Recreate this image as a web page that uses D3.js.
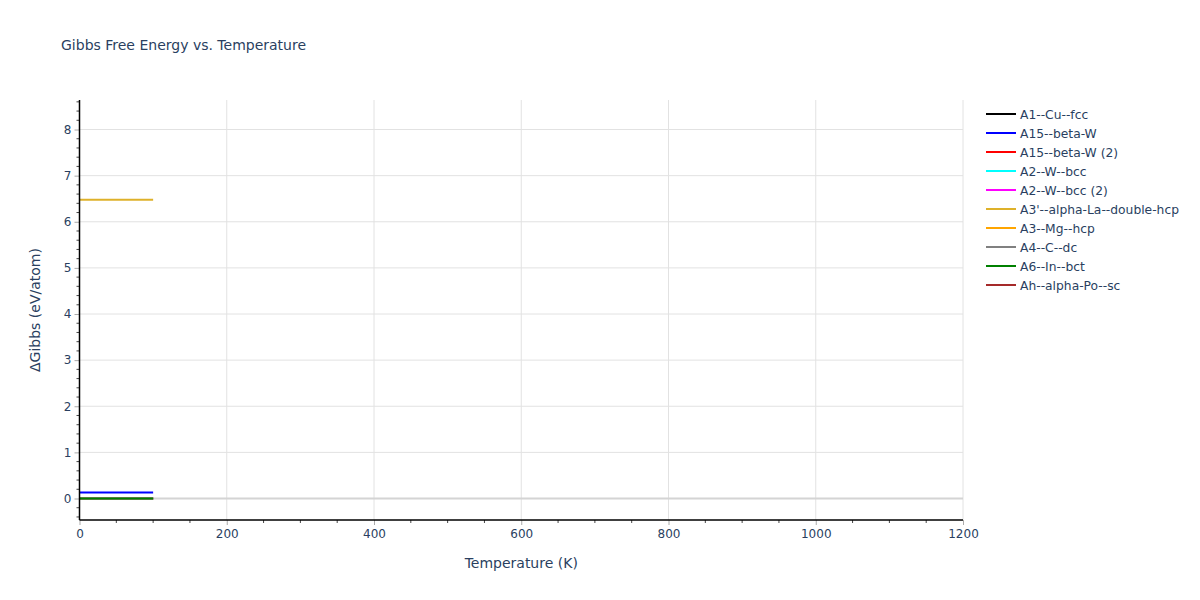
<!DOCTYPE html>
<html><head><meta charset="utf-8">
<script src="https://cdn.jsdelivr.net/npm/d3@7"></script>
<style>body{margin:0;background:#fff}text{font-family:"DejaVu Sans",sans-serif}</style>
</head><body>
<svg id="c" width="1200" height="600"></svg>
<script>
const temperatures = [0, 20, 40, 60, 80, 100];
const seriesNames = ["A1--Cu--fcc","A15--beta-W","A15--beta-W (2)","A2--W--bcc","A2--W--bcc (2)","A3'--alpha-La--double-hcp","A3--Mg--hcp","A4--C--dc","A6--In--bct","Ah--alpha-Po--sc"];
const seriesColors = ["black","blue","red","cyan","magenta","#deb12a","orange","gray","green","brown"];
const A1_Cu_fcc = [0, 0, 0, 0, 0, 0];
const A15_beta_W = [0.13, 0.13, 0.13, 0.13, 0.13, 0.13];
const A15_beta_W_2 = [0, 0, 0, 0, 0, 0];
const A2_W_bcc = [0, 0, 0, 0, 0, 0];
const A2_W_bcc_2 = [0, 0, 0, 0, 0, 0];
const A3p_alpha_La = [6.48, 6.48, 6.48, 6.48, 6.48, 6.48];
const A3_Mg_hcp = [0, 0, 0, 0, 0, 0];
const A4_C_dc = [0, 0, 0, 0, 0, 0];
const A6_In_bct = [0, 0, 0, 0, 0, 0];
const Ah_alpha_Po_sc = [];
const seriesValues = [A1_Cu_fcc, A15_beta_W, A15_beta_W_2, A2_W_bcc, A2_W_bcc_2, A3p_alpha_La, A3_Mg_hcp, A4_C_dc, A6_In_bct, Ah_alpha_Po_sc];
const xTicks = [0, 200, 400, 600, 800, 1000, 1200];
const yTicks = [0, 1, 2, 3, 4, 5, 6, 7, 8];

const svg = d3.select("#c");
const L = 79.5, R = 963, T = 100, B = 520;
const x = d3.scaleLinear().domain([0, 1200]).range([L, R]);
const y = d3.scaleLinear().domain([-0.466, 8.64]).range([B, T]);
const txt = "#2a3f5f";
const FONT = "DejaVu Sans";

// grid
svg.append("g").selectAll("line").data(xTicks.filter(d => d > 0)).join("line")
  .attr("x1", d => x(d)).attr("x2", d => x(d)).attr("y1", T).attr("y2", B)
  .attr("stroke", "#e2e2e2").attr("stroke-width", 1);
svg.append("g").selectAll("line").data(yTicks.filter(d => d !== 0)).join("line")
  .attr("x1", L).attr("x2", R).attr("y1", d => y(d)).attr("y2", d => y(d))
  .attr("stroke", "#e2e2e2").attr("stroke-width", 1);
// zero line
svg.append("line").attr("x1", L).attr("x2", R).attr("y1", y(0)).attr("y2", y(0))
  .attr("stroke", "#d4d4d4").attr("stroke-width", 2);

// series
const line = d3.line().x((d, i) => x(temperatures[i])).y(d => y(d));
seriesValues.forEach((vals, k) => {
  if (!vals.length) return;
  svg.append("path").datum(vals).attr("d", line).attr("fill", "none")
    .attr("stroke", seriesColors[k]).attr("stroke-width", 2);
});

// axes
const xAxis = d3.axisBottom(x).tickValues(xTicks).tickFormat(d3.format("d")).tickSize(5).tickPadding(4);
const gx = svg.append("g").attr("transform", `translate(0,${B})`).call(xAxis);
gx.select(".domain").remove();
gx.selectAll(".tick line").attr("stroke", "#aaa");
gx.selectAll("text").attr("fill", txt).attr("font-size", 12).attr("font-family", FONT);
const xMinor = d3.range(50, 1200, 50).filter(v => v % 200 !== 0);
svg.append("g").selectAll("line").data(xMinor).join("line")
  .attr("x1", d => x(d)).attr("x2", d => x(d)).attr("y1", B).attr("y2", B + 3).attr("stroke", "#444");

const yAxis = d3.axisLeft(y).tickValues(yTicks).tickSize(5).tickPadding(3);
const gy = svg.append("g").attr("transform", `translate(${L},0)`).call(yAxis);
gy.select(".domain").remove();
gy.selectAll(".tick line").attr("stroke", "#aaa");
gy.selectAll("text").attr("fill", txt).attr("font-size", 12).attr("font-family", FONT);
const yMinor = d3.range(-4, 87, 2).map(v => v / 10).filter(v => Math.abs(v - Math.round(v)) > 1e-9);
svg.append("g").selectAll("line").data(yMinor).join("line")
  .attr("x1", L - 3).attr("x2", L).attr("y1", d => y(d)).attr("y2", d => y(d)).attr("stroke", "#444");

svg.append("line").attr("x1", L).attr("x2", R).attr("y1", B).attr("y2", B).attr("stroke", "#000").attr("stroke-width", 1.5);
svg.append("line").attr("x1", L).attr("x2", L).attr("y1", T).attr("y2", B).attr("stroke", "#000").attr("stroke-width", 1.5);

// titles
svg.append("text").attr("x", 61).attr("y", 50).attr("fill", txt).attr("font-size", 14)
  .text("Gibbs Free Energy vs. Temperature");
svg.append("text").attr("x", (L + R) / 2).attr("y", 568).attr("text-anchor", "middle")
  .attr("fill", txt).attr("font-size", 14).text("Temperature (K)");
svg.append("text").attr("transform", `translate(40,${(T + B) / 2}) rotate(-90)`).attr("text-anchor", "middle")
  .attr("fill", txt).attr("font-size", 14).text("ΔGibbs (eV/atom)");

// legend
const lg = svg.append("g").attr("transform", "translate(986,114)");
seriesNames.forEach((n, i) => {
  const g = lg.append("g").attr("transform", `translate(0,${i * 19})`);
  g.append("line").attr("x1", 0).attr("x2", 30).attr("stroke", seriesColors[i]).attr("stroke-width", 2);
  g.append("text").attr("x", 34).attr("y", 4.5).attr("fill", txt).attr("font-size", 12.3).text(n);
});
</script>
</body></html>
